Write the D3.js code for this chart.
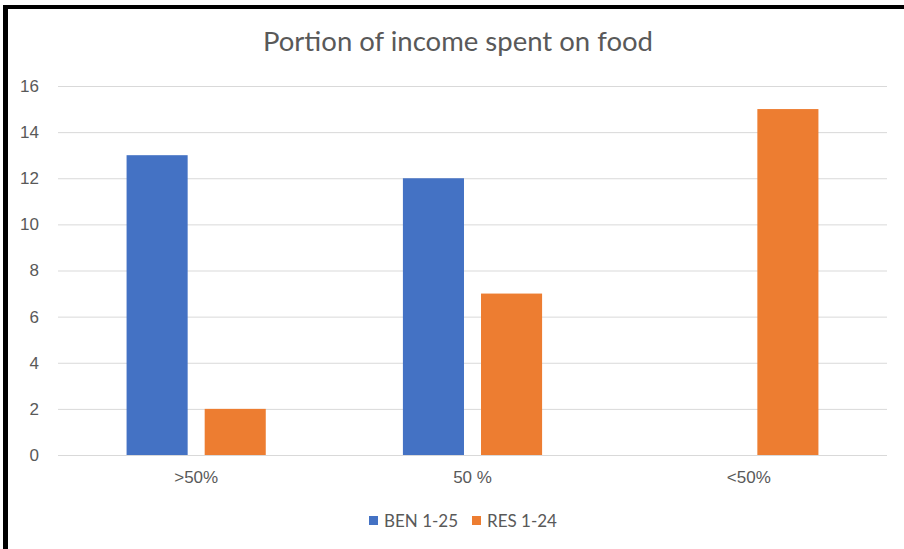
<!DOCTYPE html>
<html>
<head>
<meta charset="utf-8">
<script src="https://cdn.jsdelivr.net/npm/d3@7"></script>
<style>
  body { margin: 0; background: #fff; }
  svg { display: block; font-family: Lato, "Open Sans", sans-serif; }
</style>
</head>
<body>
<svg id="chart" width="904" height="549"></svg>
<script>
// chart data
var categories = ['>50%', '50 %', '<50%'];
var seriesNames = ['BEN 1-25', 'RES 1-24'];
var benValues = [13, 12, 0];
var resValues = [2, 7, 15];
var yTicks = [0, 2, 4, 6, 8, 10, 12, 14, 16];
var colors = ['#4472c4', '#ed7d31'];

var svg = d3.select('#chart');
var W = 904, H = 549;
var margin = {left: 58, right: 17, top: 86, bottom: 94};

var rows = categories.map(function (c, i) {
    return {cat: c, values: [benValues[i], resValues[i]]};
});

// frame, only left and top edges are visible
svg.append('rect').attr('x', 3).attr('y', 5).attr('width', 5).attr('height', H - 5).attr('fill', '#000');
svg.append('rect').attr('x', 3).attr('y', 5).attr('width', W - 3).attr('height', 4).attr('fill', '#000');

var x0 = d3.scaleBand()
    .domain(categories)
    .range([margin.left, W - margin.right]);

var x1 = d3.scaleBand()
    .domain(seriesNames)
    .range([0, x0.bandwidth()])
    .paddingInner(0.218)
    .paddingOuter(0.878);

var y = d3.scaleLinear()
    .domain([0, 16])
    .range([H - margin.bottom, margin.top]);

// gridlines
var yAxis = d3.axisLeft(y)
    .tickValues(yTicks)
    .tickSize(-(W - margin.left - margin.right))
    .tickPadding(19);

var gy = svg.append('g')
    .attr('transform', 'translate(' + margin.left + ',0)')
    .call(yAxis);
gy.select('.domain').remove();
gy.selectAll('.tick line').attr('stroke', '#d9d9d9').attr('stroke-width', 1);
gy.selectAll('.tick text')
    .attr('fill', '#595959')
    .style('font-size', '17px');

// bars
var groups = svg.append('g').selectAll('g')
    .data(rows)
    .enter()
    .append('g')
    .attr('transform', function (d) {return 'translate(' + x0(d.cat) + ',0)'});

groups.selectAll('rect')
    .data(function (d) {
        return d.values.map(function (v, i) {return {key: seriesNames[i], value: v, i: i}});
    })
    .enter()
    .append('rect')
    .filter(function (d) {return d.value > 0})
    .attr('x', function (d) {return x1(d.key)})
    .attr('y', function (d) {return y(d.value)})
    .attr('width', x1.bandwidth())
    .attr('height', function (d) {return y(0) - y(d.value)})
    .attr('fill', function (d) {return colors[d.i]});

// x axis labels
var xAxis = d3.axisBottom(x0).tickSize(0).tickPadding(16);
var gx = svg.append('g')
    .attr('transform', 'translate(0,' + y(0) + ')')
    .call(xAxis);
gx.select('.domain').remove();
gx.selectAll('.tick text')
    .attr('fill', '#595959')
    .style('font-size', '17px');

// title
svg.append('text')
    .attr('x', 458)
    .attr('y', 51)
    .attr('text-anchor', 'middle')
    .attr('fill', '#595959')
    .style('font-size', '27.5px')
    .text('Portion of income spent on food');

// legend
var legendX = [369, 472];
var legend = svg.append('g').selectAll('g')
    .data(seriesNames)
    .enter()
    .append('g')
    .attr('transform', function (d, i) {return 'translate(' + legendX[i] + ',516)'});

legend.append('rect')
    .attr('width', 9)
    .attr('height', 9)
    .attr('fill', function (d, i) {return colors[i]});

legend.append('text')
    .attr('x', 15)
    .attr('y', 11)
    .attr('fill', '#595959')
    .style('font-size', '17px')
    .text(function (d) {return d});
</script>
</body>
</html>
